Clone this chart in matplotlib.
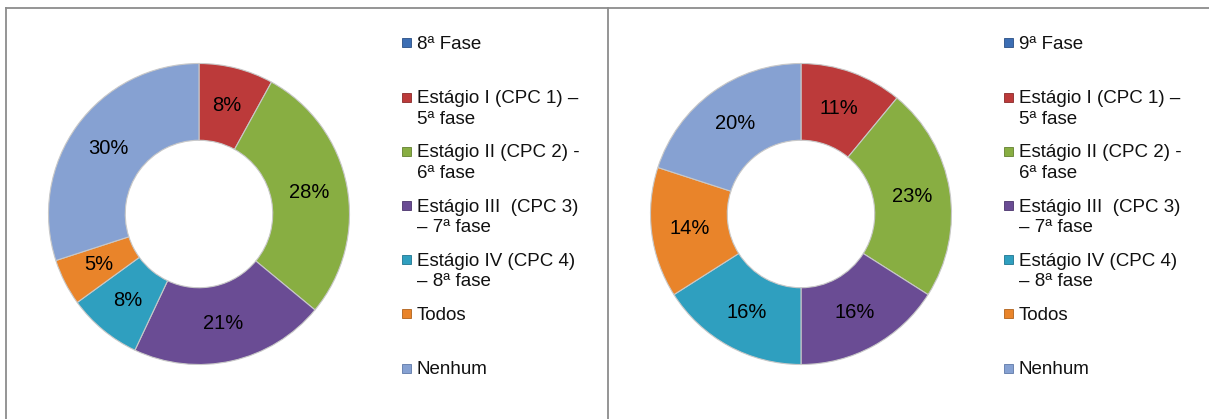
import matplotlib.pyplot as plt
from matplotlib.patches import Rectangle
from matplotlib.lines import Line2D

plt.rcParams['font.family'] = ['Liberation Sans', 'DejaVu Sans']

W, H = 1209, 419

# data
labels_left = ["8ª Fase",
               "Estágio I (CPC 1) –\n5ª fase",
               "Estágio II (CPC 2) -\n6ª fase",
               "Estágio III  (CPC 3)\n– 7ª fase",
               "Estágio IV (CPC 4)\n– 8ª fase",
               "Todos",
               "Nenhum"]
labels_right = ["9ª Fase"] + labels_left[1:]
values_left = [0, 8, 28, 21, 8, 5, 30]
values_right = [0, 11, 23, 16, 16, 14, 20]

colors = ['#3C6EB4', '#BC3A3A', '#88AE42', '#6A4C94', '#2F9FBF', '#E9842A', '#86A1D2']
edge_dark = ['#2A4F85', '#8A2A2A', '#63802F', '#4B346C', '#1F7590', '#B0621C', '#5E78A8']

fig = plt.figure(figsize=(W / 100, H / 100), dpi=100)


def px(x, y):
    # pixel coords (from top left) -> figure fraction
    return x / W, 1 - y / H


def donut(cx, cy, r, values):
    left, bottom = px(cx - r, cy + r)
    ax = fig.add_axes([left, bottom, 2 * r / W, 2 * r / H])
    ax.pie(values, colors=colors, startangle=90, counterclock=False,
           radius=1, pctdistance=0.745,
           autopct=lambda p: '' if p < 0.5 else '%d%%' % round(p),
           textprops={'fontsize': 14.5, 'color': 'black'},
           wedgeprops={'width': 0.51, 'edgecolor': '#c8c8c8', 'linewidth': 0.8})
    ax.set_xlim(-1.01, 1.01)
    ax.set_ylim(-1.01, 1.01)
    ax.set_aspect('equal')
    ax.axis('off')


def legend(x0, labels):
    step = (368 - 43) / (len(labels) - 1)
    for i, lab in enumerate(labels):
        yc = 43 + i * step
        mx, my = px(x0, yc + 4.5)
        fig.patches.append(Rectangle((mx, my), 9 / W, 9 / H, transform=fig.transFigure,
                                     facecolor=colors[i], edgecolor=edge_dark[i],
                                     linewidth=0.6))
        for j, line in enumerate(lab.split('\n')):
            tx, ty = px(x0 + 15, yc + 6 + j * 20.5)
            fig.text(tx, ty, line, fontsize=13.5, va='baseline', ha='left', color='#111111')


# panel borders
bc = '#8c8c8c'
for seg in [((6, 8), (6, 419)), ((6, 8), (1209, 8)), ((608, 8), (608, 419))]:
    (x1, y1), (x2, y2) = seg
    a, b = px(x1, y1)
    c, d = px(x2, y2)
    fig.add_artist(Line2D([a, c], [b, d], color=bc, linewidth=1.3, transform=fig.transFigure))

donut(199, 214, 152, values_left)
donut(801, 214, 152, values_right)
legend(402, labels_left)
legend(1004, labels_right)

fig.savefig('out.png', dpi=100)
